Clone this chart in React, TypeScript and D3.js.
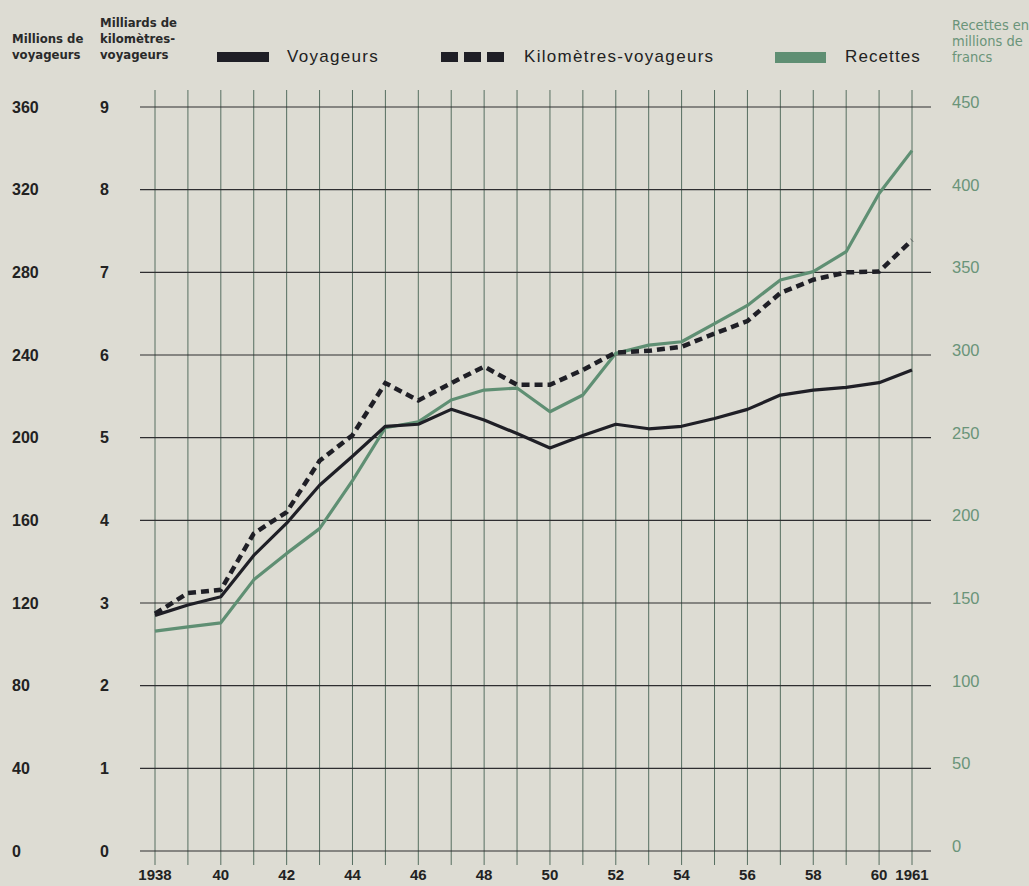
import React from "react";
import * as d3 from "d3";

const years = d3.range(1938, 1962);
const voyageurs = [114, 119, 123, 143, 158.6, 177, 191, 205.5, 206.5, 213.7, 208.5, 202, 195, 201, 206.5, 204.3, 205.5, 209.3, 213.7, 220.6, 223, 224.3, 226.6, 232.7];
const kmVoyageurs = [2.87, 3.12, 3.16, 3.84, 4.1, 4.72, 5.03, 5.66, 5.45, 5.66, 5.86, 5.64, 5.64, 5.82, 6.03, 6.05, 6.1, 6.26, 6.41, 6.75, 6.91, 7.0, 7.01, 7.39];
const recettes = [133, 135.6, 138, 164, 180, 195, 224, 256, 259.6, 272.8, 278.8, 280, 265.7, 275.8, 301, 306, 308, 319, 330, 345.4, 350.4, 362.5, 397.7, 423.6];

const leftTicks = [0, 40, 80, 120, 160, 200, 240, 280, 320, 360];
const kmTicks = [0, 1, 2, 3, 4, 5, 6, 7, 8, 9];
const rightTicks = [0, 50, 100, 150, 200, 250, 300, 350, 400, 450];
const xTickLabels: [number, string][] = [
  [1938, "1938"], [1940, "40"], [1942, "42"], [1944, "44"], [1946, "46"], [1948, "48"],
  [1950, "50"], [1952, "52"], [1954, "54"], [1956, "56"], [1958, "58"], [1960, "60"], [1961, "1961"],
];

const W = 1029;
const H = 886;
const COND = "'DejaVu Sans Condensed', 'Liberation Sans Narrow', Arial, sans-serif";
const SANS = "'Liberation Sans', Arial, Helvetica, sans-serif";
const BG = "#dddcd3";
const DARK = "#1f1f26";
const GREEN = "#5f8f73";
const GREEN_TEXT = "#6a9479";
const VGRID = "#566e60";

export default function App() {
  const x = d3.scaleLinear().domain([1938, 1961]).range([155, 912]);
  const yL = d3.scaleLinear().domain([0, 360]).range([851, 107]);
  const yK = d3.scaleLinear().domain([0, 9]).range([851, 107]);
  const yR = d3.scaleLinear().domain([0, 450]).range([851, 107]);

  const lineV = d3.line<number>().x((_, i) => x(years[i])).y((d) => yL(d));
  const lineK = d3.line<number>().x((_, i) => x(years[i])).y((d) => yK(d));
  const lineR = d3.line<number>().x((_, i) => x(years[i])).y((d) => yR(d));

  return (
    <svg width={W} height={H} style={{ position: "absolute", left: 0, top: 0, display: "block" }} fontFamily={SANS}>
      <rect x={0} y={0} width={W} height={H} fill={BG} />

      {/* vertical grid */}
      {years.map((yr) => (
        <line key={"v" + yr} x1={x(yr)} x2={x(yr)} y1={90} y2={865} stroke={VGRID} strokeWidth={1} />
      ))}
      {/* horizontal grid */}
      {leftTicks.map((t) => (
        <line key={"h" + t} x1={140} x2={931} y1={yL(t)} y2={yL(t)} stroke="#2e2e30" strokeWidth={1.2} />
      ))}

      {/* left labels */}
      {leftTicks.map((t) => (
        <text key={"l" + t} x={12} y={yL(t)} dy="0.36em" fontSize={16} fontWeight="bold" fill="#222">
          {t}
        </text>
      ))}
      {kmTicks.map((t) => (
        <text key={"k" + t} x={100} y={yK(t)} dy="0.36em" fontSize={16} fontWeight="bold" fill="#222">
          {t}
        </text>
      ))}
      {rightTicks.map((t) => (
        <text key={"r" + t} x={952} y={yR(t) + 1} fontSize={16.5} fill={GREEN_TEXT}>
          {t}
        </text>
      ))}
      {xTickLabels.map(([yr, lab]) => (
        <text key={"x" + yr} x={x(yr)} y={880} textAnchor="middle" fontSize={15} fontWeight="bold" fill="#222">
          {lab}
        </text>
      ))}

      {/* headers */}
      <text fontFamily={COND} fontSize={13} fontWeight="bold" fill="#2a2a2a">
        <tspan x={12} y={43}>Millions de</tspan>
        <tspan x={12} y={59}>voyageurs</tspan>
      </text>
      <text fontFamily={COND} fontSize={13} fontWeight="bold" fill="#2a2a2a">
        <tspan x={100} y={27}>Milliards de</tspan>
        <tspan x={100} y={43}>kilomètres-</tspan>
        <tspan x={100} y={59}>voyageurs</tspan>
      </text>
      <text fontFamily={COND} fontSize={14.5} fill={GREEN_TEXT}>
        <tspan x={952} y={30}>Recettes en</tspan>
        <tspan x={952} y={46}>millions de</tspan>
        <tspan x={952} y={62}>francs</tspan>
      </text>

      {/* legend */}
      <rect x={217} y={52} width={52} height={10} fill={DARK} />
      <text x={287} y={62} fontSize={17} letterSpacing={1.3} fill="#222">Voyageurs</text>
      {[0, 1, 2].map((i) => (
        <rect key={"lk" + i} x={441 + i * 23} y={52} width={17} height={10} fill={DARK} />
      ))}
      <text x={524} y={62} fontSize={17} letterSpacing={1.3} fill="#222">Kilomètres-voyageurs</text>
      <rect x={775} y={52} width={51} height={11} fill={GREEN} />
      <text x={845} y={62} fontSize={17} letterSpacing={1.1} fill="#222">Recettes</text>

      {/* series */}
      <path d={lineR(recettes) || ""} fill="none" stroke={GREEN} strokeWidth={3.2} strokeLinejoin="round" />
      <path d={lineK(kmVoyageurs) || ""} fill="none" stroke={DARK} strokeWidth={4.5} strokeDasharray="8 5" />
      <path d={lineV(voyageurs) || ""} fill="none" stroke={DARK} strokeWidth={3.2} strokeLinejoin="round" />
    </svg>
  );
}
